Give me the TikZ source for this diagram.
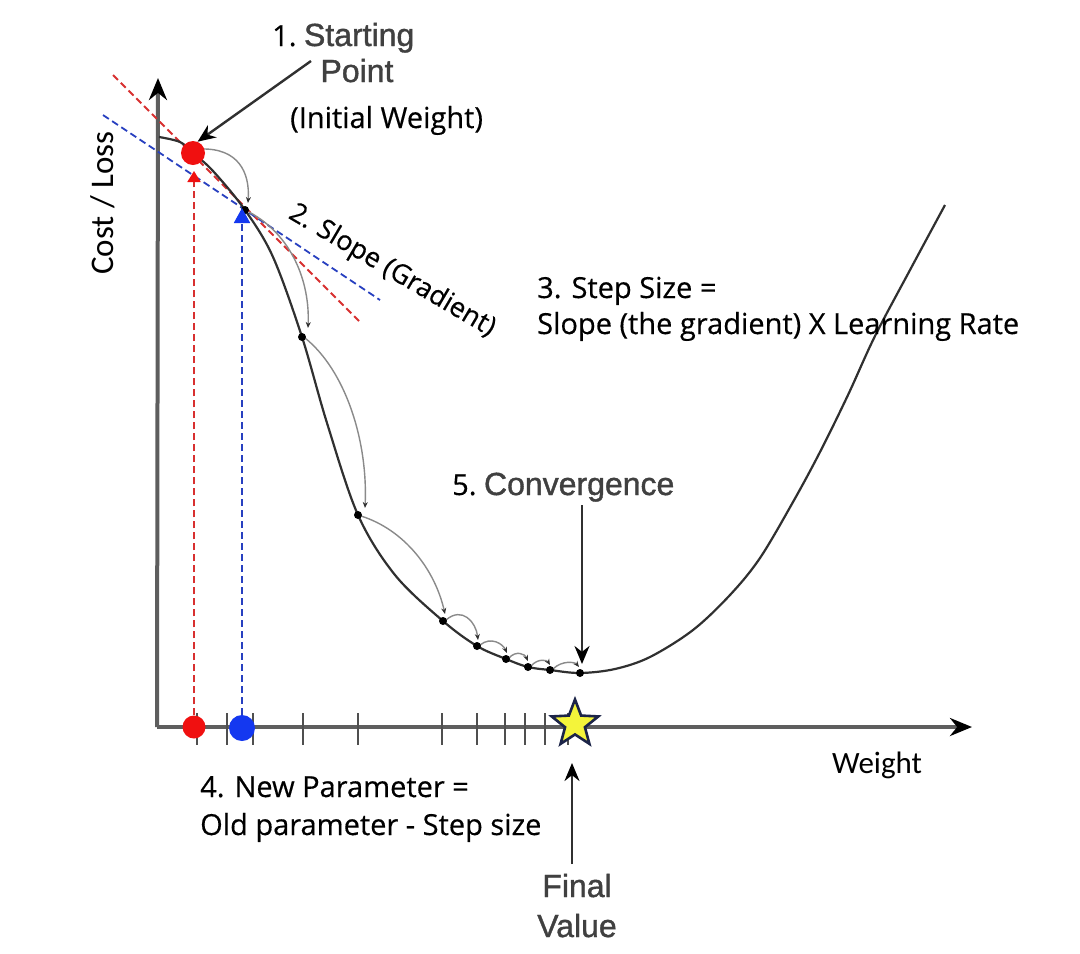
\documentclass[tikz,border=0pt]{standalone}
\usepackage{fontspec}
\usetikzlibrary{arrows.meta,shapes.geometric}
\newfontfamily\mainf[FakeBold=0.4]{Open Sans}
\newfontfamily\helvf[FakeBold=1.2]{Liberation Sans}
\newfontfamily\calf{Carlito}
\definecolor{axisgray}{HTML}{5E5E5E}
\definecolor{curvecol}{HTML}{303030}
\definecolor{arccol}{HTML}{8A8A8A}
\definecolor{helvgray}{HTML}{404040}
\definecolor{dotred}{HTML}{F01010}
\definecolor{dotblue}{HTML}{1438F0}
\definecolor{dashred}{HTML}{D83030}
\definecolor{dashblue}{HTML}{2840C0}
\definecolor{staryellow}{HTML}{F4F43A}
\definecolor{starnavy}{HTML}{1C2448}
\begin{document}
\begin{tikzpicture}[x=1pt,y=-1pt,
  axisline/.style={draw=axisgray,line width=4pt,-{Stealth[length=22pt,width=18pt,color=black]}},
  tickline/.style={draw=curvecol!85,line width=2.8pt},
  costcurve/.style={draw=curvecol,line width=2.2pt,line join=round},
  steparc/.style={draw=arccol,line width=1.4pt,-{Stealth[length=6pt,width=5pt,color=curvecol]}},
  curvedot/.style={circle,fill=black,inner sep=0pt,minimum size=8pt},
  bigdot/.style={circle,inner sep=0pt,minimum size=#1},
  reddash/.style={draw=dashred,line width=1.8pt,dash pattern=on 7pt off 4pt},
  bluedash/.style={draw=dashblue,line width=1.8pt,dash pattern=on 7pt off 4pt},
  callout/.style={draw=curvecol,line width=2.4pt,-{Stealth[length=18pt,width=15pt,color=black]}},
  maintxt/.style={font=\mainf\fontsize{29}{35}\selectfont,inner sep=0pt,text=black},
  helvtxt/.style={font=\helvf\fontsize{32}{38}\selectfont,inner sep=0pt,text=helvgray},
  caltxt/.style={font=\calf\fontsize{31}{37}\selectfont,inner sep=0pt,text=black}
]
\useasboundingbox (0,0) rectangle (1080,954);
\fill[white] (0,0) rectangle (1080,954);

% axes
\coordinate (origin) at (157,727);
\coordinate (ytip) at (158,78);
\coordinate (xtip) at (972,727);
\draw[axisline] (origin) -- (ytip);
\draw[axisline] (origin) -- (xtip);

% ticks
\foreach \t in {197,227,253,303,358,442,477,505,525,545,568}
  \draw[tickline] (\t,713) -- (\t,745);

% tangent lines
\coordinate (ra) at (113,75);
\coordinate (rb) at (360,322);
\coordinate (ba) at (103,115);
\coordinate (bb) at (380,300);
\draw[reddash] (ra) -- (rb);
\draw[bluedash] (ba) -- (bb);

% cost curve
\draw[costcurve] plot[smooth,tension=0.55] coordinates {(159,137) (180,142) (193,153) (213,171) (245,210) (273,257) (302,337) (327,423) (358,515) (395,575) (443,621) (477,646) (506,659) (528,667) (550,670) (580,673) (615,669) (650,657) (693,630) (730,595) (760,558) (793,502) (820,452) (848,395) (875,336) (910,270) (945,205)};

% step arcs
\draw[steparc] (201,149) .. controls (238,148) and (250,172) .. (248,203);
\draw[steparc] (249,212) .. controls (292,235) and (310,282) .. (308,328);
\draw[steparc] (305,338) .. controls (345,370) and (368,440) .. (365,508);
\draw[steparc] (361,516) .. controls (405,530) and (435,570) .. (445,614);
\draw[steparc] (446,620) .. controls (462,606) and (476,622) .. (478,640);
\draw[steparc] (480,645) .. controls (491,636) and (503,644) .. (507,653);
\draw[steparc] (509,658) .. controls (516,650) and (525,654) .. (528,661);
\draw[steparc] (531,666) .. controls (538,658) and (547,660) .. (550,665);
\draw[steparc] (553,669) .. controls (562,660) and (575,662) .. (579,667);

% dots on curve
\node[curvedot] (d1) at (245,210) {};
\node[curvedot] (d2) at (302,337) {};
\node[curvedot] (d3) at (358,515) {};
\node[curvedot] (d4) at (443,621) {};
\node[curvedot] (d5) at (477,646) {};
\node[curvedot] (d6) at (506,659) {};
\node[curvedot] (d7) at (528,667) {};
\node[curvedot] (d8) at (550,670) {};
\node[curvedot] (dmin) at (580,673) {};

% coloured points
\node[bigdot=24pt,fill=dotred] (reddot) at (193,153) {};
\node[bigdot=23pt,fill=dotred] (redaxis) at (194,727) {};
\node[bigdot=26pt,fill=dotblue] (blueaxis) at (242,728) {};
\node[star,star points=5,star point ratio=2.35,minimum size=49pt,inner sep=0pt,
      fill=staryellow,draw=starnavy,line width=2.6pt] (star) at (575,724) {};

% projections
\coordinate (redtip) at (194,171);
\coordinate (bluetip) at (242,208);
\draw[reddash,-{Triangle[length=11pt,width=13pt,color=dotred]}] (redaxis.north) -- (redtip);
\draw[bluedash,-{Triangle[length=15pt,width=16pt,color=dotblue]}] (blueaxis.north) -- (bluetip);

% labels
\node[anchor=base west,inner sep=0pt] (start1) at (272,46)
  {{\mainf\fontsize{29}{35}\selectfont 1.\ }{\helvf\fontsize{32}{38}\selectfont\color{helvgray}Starting}};
\node[helvtxt,anchor=base] (start2) at (357,82) {Point};
\node[maintxt,anchor=base west] (initw) at (290,128) {(Initial Weight)};
\coordinate (sparrow) at (311,61);
\draw[callout] (sparrow) -- (reddot.68);

\node[font=\mainf\fontsize{27}{32}\selectfont,inner sep=0pt,rotate=-30.5] (slope) at (392,271) {2. Slope (Gradient)};

\node[maintxt,anchor=base west] (step1) at (537,298) {3. Step Size =};
\node[maintxt,anchor=base west] (step2) at (537,334) {Slope (the gradient) X Learning Rate};

\node[maintxt,anchor=base west] (newp1) at (200,797) {4. New Parameter =};
\node[maintxt,anchor=base west] (newp2) at (200,835) {Old parameter - Step size};

\node[anchor=base west,inner sep=0pt] (conv) at (452,495)
  {{\mainf\fontsize{29}{35}\selectfont 5.\ }{\helvf\fontsize{32}{38}\selectfont\color{helvgray}Convergence}};
\coordinate (convtop) at (582,505);
\coordinate (convtip) at (582,664);
\draw[callout] (convtop) -- (convtip);

\node[helvtxt,anchor=base] (final1) at (577,897) {Final};
\node[helvtxt,anchor=base] (final2) at (577,937) {Value};
\coordinate (fvbot) at (572,864);
\coordinate (fvtip) at (572,763);
\draw[callout] (fvbot) -- (fvtip);

\node[caltxt,anchor=base] (weight) at (877,773) {Weight};
\node[caltxt,font=\calf\fontsize{33}{39}\selectfont,anchor=base,rotate=90] (cost) at (113,203) {Cost / Loss};
\end{tikzpicture}
\end{document}
